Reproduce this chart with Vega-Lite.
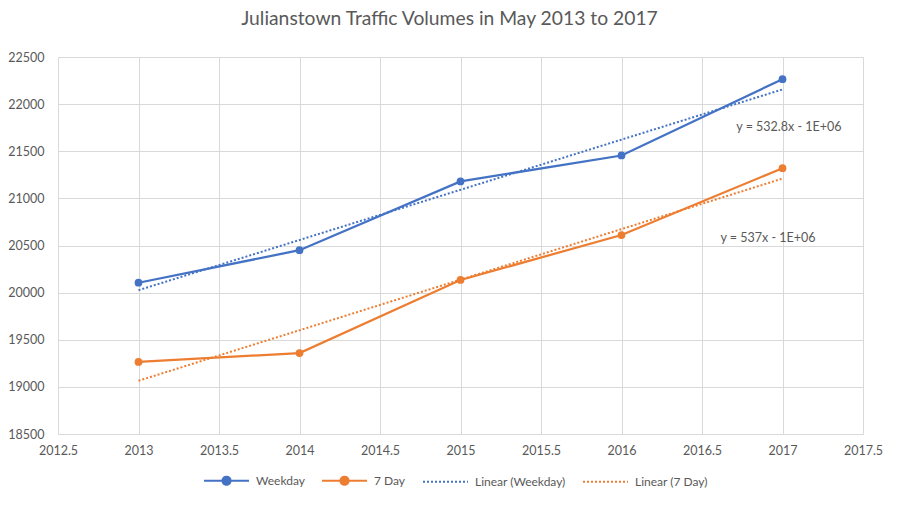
{
  "$schema": "https://vega.github.io/schema/vega-lite/v6.json",
  "width": 805,
  "height": 377,
  "autosize": "none",
  "padding": {"left": 58, "top": 57, "right": 37, "bottom": 86},
  "background": "white",
  "title": {"text": "Julianstown Traffic Volumes in May 2013 to 2017", "fontSize": 19.3, "font": "Lato", "fontWeight": "normal", "color": "#595959", "anchor": "middle", "offset": 22, "dx": -11},
  "config": {
    "font": "Lato",
    "view": {"stroke": null},
    "axis": {"gridColor": "#d9d9d9", "domainColor": "#d9d9d9", "ticks": false, "labelFontSize": 12.5, "labelColor": "#595959", "labelFont": "Lato", "title": null, "labelFlush": false}
  },
  "datasets": {
    "volumes": [
      {"year": 2013, "value": 20105, "series": "Weekday", "trend": "Linear (Weekday)"},
      {"year": 2014, "value": 20450, "series": "Weekday", "trend": "Linear (Weekday)"},
      {"year": 2015, "value": 21180, "series": "Weekday", "trend": "Linear (Weekday)"},
      {"year": 2016, "value": 21455, "series": "Weekday", "trend": "Linear (Weekday)"},
      {"year": 2017, "value": 22265, "series": "Weekday", "trend": "Linear (Weekday)"},
      {"year": 2013, "value": 19264, "series": "7 Day", "trend": "Linear (7 Day)"},
      {"year": 2014, "value": 19359, "series": "7 Day", "trend": "Linear (7 Day)"},
      {"year": 2015, "value": 20134, "series": "7 Day", "trend": "Linear (7 Day)"},
      {"year": 2016, "value": 20611, "series": "7 Day", "trend": "Linear (7 Day)"},
      {"year": 2017, "value": 21320, "series": "7 Day", "trend": "Linear (7 Day)"}
    ],
    "labels": [
      {"year": 2017.04, "value": 21757, "label": "y = 532.8x - 1E+06"},
      {"year": 2016.91, "value": 20580, "label": "y = 537x - 1E+06"}
    ]
  },
  "layer": [
    {
      "data": {"name": "volumes"},
      "transform": [{"regression": "value", "on": "year", "groupby": ["trend"]}],
      "mark": {"type": "line", "strokeDash": [2, 2], "strokeWidth": 2},
      "encoding": {
        "x": {"field": "year", "type": "quantitative", "scale": {"domain": [2012.5, 2017.5], "nice": false, "zero": false},
              "axis": {"values": [2012.5, 2013, 2013.5, 2014, 2014.5, 2015, 2015.5, 2016, 2016.5, 2017, 2017.5], "format": "~g", "grid": true, "labelPadding": 10}},
        "y": {"field": "value", "type": "quantitative", "scale": {"domain": [18500, 22500], "nice": false, "zero": false},
              "axis": {"values": [18500, 19000, 19500, 20000, 20500, 21000, 21500, 22000, 22500], "format": "d", "grid": true, "domain": false, "labelPadding": 14}},
        "color": {"field": "trend", "type": "nominal",
                  "scale": {"domain": ["Weekday", "7 Day", "Linear (Weekday)", "Linear (7 Day)"], "range": ["#4472C4", "#ED7D31", "#4472C4", "#ED7D31"]}}
      }
    },
    {
      "data": {"name": "volumes"},
      "mark": {"type": "line", "strokeWidth": 2.25, "point": {"filled": true, "size": 60, "opacity": 1}},
      "encoding": {
        "x": {"field": "year", "type": "quantitative"},
        "y": {"field": "value", "type": "quantitative"},
        "color": {"field": "series", "type": "nominal",
                  "scale": {"domain": ["Weekday", "7 Day", "Linear (Weekday)", "Linear (7 Day)"], "range": ["#4472C4", "#ED7D31", "#4472C4", "#ED7D31"]},
                  "legend": {"orient": "none", "legendX": 145, "legendY": 400, "direction": "horizontal", "title": null, "symbolType": "stroke", "symbolSize": 2025, "symbolStrokeWidth": 2,
                             "labelFontSize": 12, "labelColor": "#595959", "labelFont": "Lato", "columnPadding": 13, "labelOffset": 6,
                             "encode": {"symbols": {"update": {
                               "shape": {"signal": "indexof(datum.value, 'Linear') == 0 ? 'stroke' : 'M-1,0H-0.18M0.18,0H1M-0.18,0A0.18,0.18 0 1,0 0.18,0A0.18,0.18 0 1,0 -0.18,0'"},
                               "fill": {"signal": "datum.value == 'Weekday' ? '#4472C4' : datum.value == '7 Day' ? '#ED7D31' : 'transparent'"},
                               "strokeDash": {"signal": "indexof(datum.value, 'Linear') == 0 ? [2, 2] : [1, 0]"},
                               "opacity": {"value": 1}
                             }}}}}
      }
    },
    {
      "data": {"name": "labels"},
      "mark": {"type": "text", "fontSize": 12.5, "color": "#595959", "font": "Lato"},
      "encoding": {
        "x": {"field": "year", "type": "quantitative"},
        "y": {"field": "value", "type": "quantitative"},
        "text": {"field": "label"}
      }
    }
  ]
}
